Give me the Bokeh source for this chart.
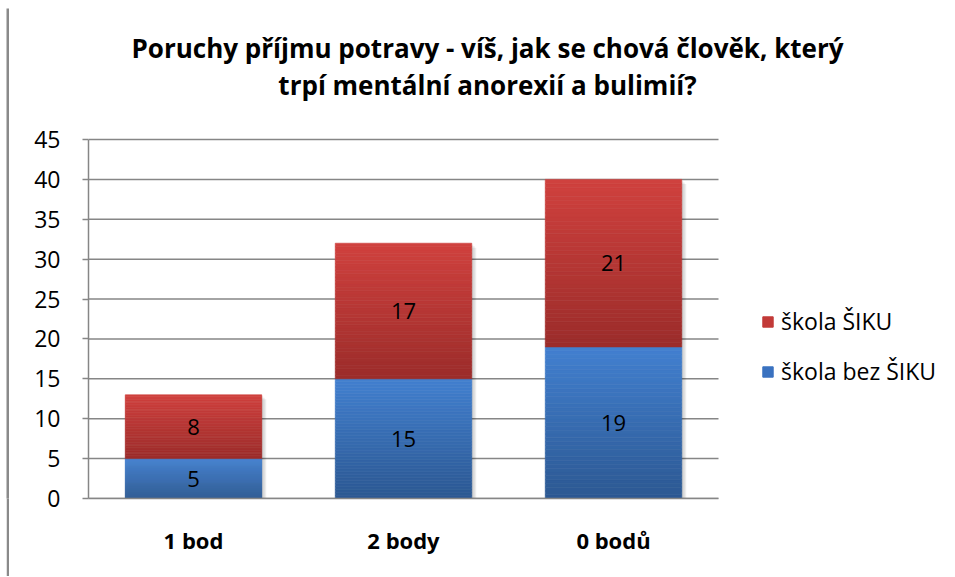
from bokeh.plotting import figure
from bokeh.layouts import column, row
from bokeh.models import Range1d, FixedTicker, Label, Legend, LegendItem, ColumnDataSource, Spacer
from bokeh.core.properties import value
from bokeh.embed import file_html
from bokeh.resources import INLINE

# ---- data ----
categories = ["1 bod", "2 body", "0 bodů"]
skola_bez_siku = [5, 15, 19]
skola_siku = [8, 17, 21]
series_names = ["škola bez ŠIKU", "škola ŠIKU"]
y_ticks = [0, 5, 10, 15, 20, 25, 30, 35, 40, 45]
title_lines = ["Poruchy příjmu potravy - víš, jak se chová člověk, který",
               "trpí mentální anorexií a bulimií?"]

FONT = "Open Sans"

# ---- geometry (pixels) ----
OX, OY = 9, 8              # page position of the main figure
MW, MH = 945, 568          # main figure size
FL, FB = 88, 498           # frame left / x-axis position on the page
BL = FL - OX
BB = OY + MH - FB
PX_X = 210.0               # pixels per category
PX_Y = 359.0 / 45.0        # pixels per unit
xmax = (MW - BL) / PX_X
ymax = (MH - BB) / PX_Y

p = figure(width=MW, height=MH, output_backend="svg", toolbar_location=None,
           x_range=Range1d(0, xmax), y_range=Range1d(0, ymax),
           min_border_left=BL, min_border_right=0, min_border_top=0,
           min_border_bottom=BB)
p.outline_line_color = None
p.background_fill_color = "white"
p.border_fill_color = "white"
p.grid.visible = False

ncat = len(categories)
# horizontal grid lines (between the axis and the end of the category area)
p.segment(x0=[0] * len(y_ticks), x1=[ncat] * len(y_ticks), y0=y_ticks, y1=y_ticks,
          line_color="#868686", line_width=1.5)

# axes
for ax in (p.xaxis, p.yaxis):
    ax.axis_line_color = "#868686"
    ax.axis_line_width = 1.5
    ax.minor_tick_line_color = None
    ax.major_label_text_font = FONT
    ax.major_label_text_color = "#000000"
p.yaxis.ticker = FixedTicker(ticks=y_ticks)
p.yaxis.bounds = (y_ticks[0], y_ticks[-1])
p.yaxis.major_tick_line_color = "#868686"
p.yaxis.major_tick_line_width = 1.5
p.yaxis.major_tick_out = 6
p.yaxis.major_tick_in = 0
p.yaxis.major_label_text_font_size = "23px"
p.yaxis.major_label_standoff = 22

centers = [i + 0.5 for i in range(ncat)]
p.xaxis.ticker = FixedTicker(ticks=centers)
p.xaxis.bounds = (0, ncat)
p.xaxis.major_label_overrides = {c: n for c, n in zip(centers, categories)}
p.xaxis.major_tick_line_color = None
p.xaxis.major_tick_out = 0
p.xaxis.major_tick_in = 0
p.xaxis.major_label_text_font_size = "22px"
p.xaxis.major_label_text_font_style = "bold"
p.xaxis.major_label_standoff = 26

bar_w = 0.65
N = 40

def lerp(c1, c2, t):
    return "#%02x%02x%02x" % tuple(int(round(a + (b - a) * t)) for a, b in zip(c1, c2))

series = [
    (skola_bez_siku, (44, 88, 146), (66, 128, 208)),   # bottom colour, top colour
    (skola_siku, (155, 44, 42), (208, 65, 62)),
]

# soft shadow on the right of the bars
tot = [a + b for a, b in zip(skola_bez_siku, skola_siku)]
for k in (1.5, 3.0, 4.5):
    dx, dy = k / PX_X, k / PX_Y
    p.quad(left=[c - bar_w / 2 + dx for c in centers], right=[c + bar_w / 2 + dx for c in centers],
           bottom=[0] * ncat, top=[t - dy for t in tot],
           fill_color="black", fill_alpha=0.07, line_color=None)

base = [0] * ncat
for vals, cb, ct in series:
    L, R, B, T, C = [], [], [], [], []
    for i, v in enumerate(vals):
        b0 = base[i]
        for k in range(N):
            L.append(centers[i] - bar_w / 2)
            R.append(centers[i] + bar_w / 2)
            B.append(b0 + v * k / N)
            T.append(b0 + v * (k + 1) / N)
            C.append(lerp(cb, ct, (k + 0.5) / N))
    src = ColumnDataSource(dict(left=L, right=R, bottom=B, top=T, color=C))
    p.quad(left="left", right="right", bottom="bottom", top="top", source=src,
           fill_color="color", line_color="color", line_width=0.6)
    mids = [base[i] + v / 2 for i, v in enumerate(vals)]
    p.text(x=centers, y=mids, text=[str(v) for v in vals], text_align="center",
           text_baseline="middle", text_font=value(FONT), text_font_size="22px",
           text_color="#000000")
    base = [base[i] + v for i, v in enumerate(vals)]

# legend proxies (plain squares)
leg = []
for name, col in ((series_names[1], "#c23a38"), (series_names[0], "#3a72c0")):
    lr = p.quad(left=[0], right=[0], bottom=[0], top=[0], fill_color=col, line_color=col)
    leg.append(LegendItem(label=name, renderers=[lr]))
legend = Legend(items=leg, location=(673, 111), orientation="vertical")
legend.border_line_color = None
legend.background_fill_alpha = 0
legend.padding = 0
legend.margin = 0
legend.glyph_width = 13
legend.glyph_height = 13
legend.label_standoff = 7
legend.spacing = 18
legend.label_text_font = FONT
legend.label_text_font_size = "23px"
legend.label_text_color = "#000000"
p.add_layout(legend, "center")

# title (two centred lines) above the bars
for txt, baseline_px in zip(title_lines, (47, 84)):
    p.add_layout(Label(x=(487 - FL) / PX_X, y=(FB - baseline_px) / PX_Y, text=txt,
                       text_align="center", text_baseline="alphabetic",
                       text_font=FONT, text_font_size="26px", text_font_style="bold",
                       text_color="#000000"))

# frame lines (top and left) of the chart area
def bar_fig(w, h, col):
    f = figure(width=w, height=h, output_backend="svg", toolbar_location=None,
               x_axis_location=None, y_axis_location=None,
               min_border=0, min_border_left=0, min_border_right=0,
               min_border_top=0, min_border_bottom=0)
    f.grid.visible = False
    f.outline_line_color = None
    f.background_fill_color = col
    f.border_fill_color = col
    return f

top_line = bar_fig(3 + MW, 2, "#a0a0a0")
left_line = bar_fig(3, MH, "#8a8a8a")

layout = row(Spacer(width=6, height=OY + MH),
             column(Spacer(width=3 + MW, height=6), top_line,
                    row(left_line, p, spacing=0), spacing=0),
             spacing=0)
open("out.html", "w").write(file_html(layout, INLINE))
